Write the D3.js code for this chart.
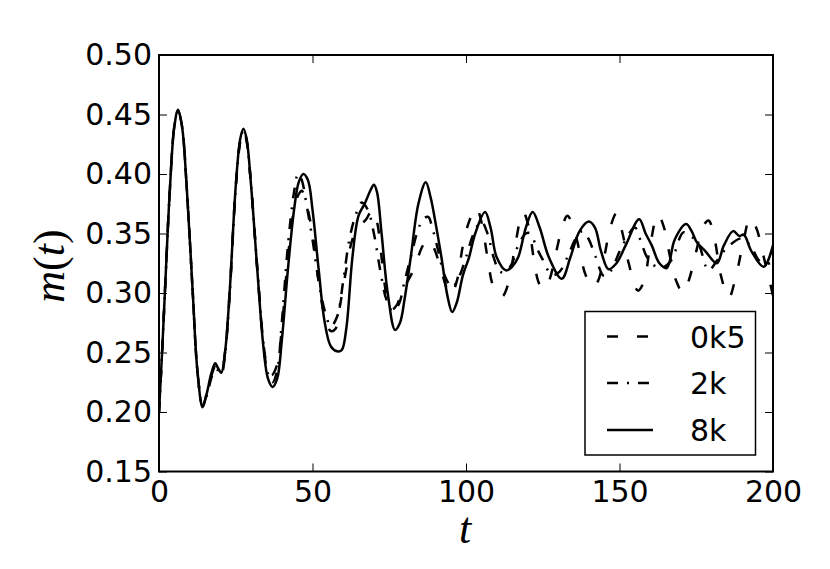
<!DOCTYPE html>
<html><head><meta charset="utf-8">
<script src="https://cdn.jsdelivr.net/npm/d3@7"></script>
<style>body{margin:0;background:#fff}svg{display:block}</style>
</head><body>
<script>
const xTicks=[0,50,100,150,200];
const yTicks=[0.15,0.20,0.25,0.30,0.35,0.40,0.45,0.50];
const seriesNames=["0k5","2k","8k"];

const t8k=[0,1,2,3.5,5,6.2,7.5,9,11,12.5,14.2,15.5,17,18.3,19.2,20.3,21.5,23,25,26.5,27.5,28.5,30,32,34,35.5,37,38.5,40,42,44,45.5,47,48.5,50,52,54,56,58,59.5,61,63,65,67,69,70,71,72.5,74.5,76.9,78.5,80,82,84.5,86.9,88.5,90,92,94,95.5,97,99,101,103,106.2,108,110,113,115,117,119.5,121.7,124,127,131.2,134,137,140,142,144,146.4,149,152,156.4,158.5,160.5,163,165.4,168,171.7,173.5,175.1,178,181.7,184,187,189,190.5,193,197,200];
const m8k=[0.200,0.250,0.305,0.385,0.440,0.454,0.440,0.390,0.300,0.235,0.204,0.215,0.232,0.241,0.237,0.233,0.250,0.300,0.390,0.430,0.438,0.430,0.390,0.320,0.255,0.228,0.221,0.228,0.260,0.320,0.370,0.393,0.400,0.395,0.370,0.320,0.275,0.255,0.251,0.252,0.270,0.330,0.365,0.375,0.387,0.391,0.385,0.350,0.300,0.269,0.275,0.295,0.330,0.375,0.393,0.380,0.360,0.330,0.297,0.284,0.292,0.315,0.330,0.350,0.368,0.355,0.330,0.319,0.322,0.330,0.355,0.368,0.355,0.330,0.312,0.330,0.352,0.360,0.355,0.335,0.320,0.325,0.340,0.362,0.350,0.340,0.325,0.321,0.345,0.358,0.352,0.343,0.335,0.325,0.340,0.352,0.348,0.349,0.335,0.322,0.340];

const t0k5=[0,1,2,3.5,5,6.2,7.5,9,11,12.5,14.2,15.5,17,18.3,19.2,20.3,21.5,23,25,26.5,27.5,28.5,30,32,34,35.5,36.7,38.5,40,42,44,45.5,46.5,48,50,52,54,56,57.5,59,61,63,65,67.5,69.5,71,72.5,74,75.8,77.5,79,83,86,88,90,92,95,97,99,101,103.3,105,107,109,111.7,114,116,118.6,120.5,122,123.5,125,127,129,131,133,135,137,139,141.5,143,145,147,149,151,153,156,158,160,162.5,164.5,166.5,168.5,170.7,172.5,175,177,179,181,183,185.6,188,190.5,192.5,194.5,197,200];
const m0k5=[0.200,0.250,0.305,0.385,0.440,0.453,0.440,0.390,0.300,0.235,0.205,0.215,0.230,0.238,0.236,0.233,0.250,0.300,0.390,0.428,0.436,0.428,0.390,0.320,0.258,0.235,0.231,0.240,0.270,0.330,0.370,0.383,0.386,0.375,0.350,0.310,0.280,0.268,0.270,0.290,0.320,0.345,0.355,0.362,0.370,0.360,0.330,0.300,0.286,0.290,0.300,0.320,0.340,0.345,0.335,0.318,0.298,0.310,0.340,0.360,0.372,0.360,0.330,0.305,0.297,0.310,0.340,0.368,0.355,0.330,0.310,0.303,0.310,0.330,0.352,0.365,0.355,0.335,0.315,0.305,0.310,0.330,0.355,0.367,0.350,0.325,0.302,0.310,0.340,0.366,0.355,0.330,0.310,0.300,0.310,0.335,0.355,0.361,0.345,0.315,0.296,0.315,0.345,0.363,0.355,0.330,0.298];

const t2k=[0,1,2,3.5,5,6.2,7.5,9,11,12.5,14.2,15.5,17,18.3,19.2,20.3,21.5,23,25,26.5,27.5,28.5,30,32,34,35.5,37,38.5,40,42,44,45.3,46.5,48,50,52,54,56,58,60,62,64,66,68,70,72,74,76,78,80,82,84,86,87.7,89,91,93,95.5,98,100,102.5,105,107,109,111,113,115,117,119.5,121,123,125,128,130.5,133,136,138,140,142,145,147,150.8,155,157,159,162,164.5,167,170.8,173,175.6,179,181.7,185,190,193,196,200];
const m2k=[0.200,0.250,0.305,0.385,0.440,0.453,0.440,0.390,0.300,0.235,0.205,0.213,0.228,0.236,0.235,0.232,0.248,0.298,0.388,0.428,0.437,0.429,0.390,0.322,0.258,0.232,0.225,0.235,0.275,0.340,0.385,0.400,0.395,0.375,0.345,0.310,0.285,0.272,0.280,0.310,0.345,0.365,0.376,0.370,0.350,0.320,0.295,0.285,0.290,0.310,0.330,0.350,0.362,0.364,0.355,0.335,0.315,0.305,0.315,0.330,0.350,0.360,0.350,0.330,0.318,0.318,0.325,0.340,0.350,0.350,0.338,0.328,0.315,0.318,0.330,0.347,0.352,0.345,0.332,0.314,0.318,0.339,0.355,0.343,0.330,0.322,0.322,0.328,0.351,0.348,0.342,0.319,0.327,0.338,0.346,0.338,0.326,0.325];

const W=830,H=569;
const x=d3.scaleLinear().domain([0,200]).range([159,773]);
const y=d3.scaleLinear().domain([0.15,0.50]).range([471.5,55]);
const svg=d3.select("body").append("svg").attr("width",W).attr("height",H);
svg.append("defs").append("clipPath").attr("id","clip").append("rect")
  .attr("x",159).attr("y",55).attr("width",614).attr("height",416.5);

const styles={"0k5":"11,19","2k":"11,9,2,9","8k":null};
const data={"0k5":[t0k5,m0k5],"2k":[t2k,m2k],"8k":[t8k,m8k]};
const line=d3.line().x(d=>x(d[0])).y(d=>y(d[1])).curve(d3.curveCatmullRom.alpha(0.5));
const g=svg.append("g").attr("clip-path","url(#clip)");
seriesNames.forEach(n=>{
  const [ts,ms]=data[n];
  const pts=ts.map((t,i)=>[t,ms[i]]);
  g.append("path").datum(pts).attr("d",line).attr("fill","none").attr("stroke","#000")
   .attr("stroke-width",2.5).attr("stroke-dasharray",styles[n]);
});

const font="'DejaVu Sans', sans-serif";
function styleAxis(sel){
  sel.select(".domain").remove();
  sel.selectAll(".tick line").attr("stroke","#000").attr("stroke-width",1);
  sel.selectAll(".tick text").attr("font-family",font).attr("font-size",30).attr("fill","#000");
}
svg.append("g").attr("transform","translate(0,471.5)")
  .call(d3.axisBottom(x).tickValues(xTicks).tickSize(-8).tickPadding(9).tickFormat(d3.format("d")))
  .call(styleAxis);
svg.append("g").attr("transform","translate(0,55)")
  .call(d3.axisTop(x).tickValues(xTicks).tickSize(-8).tickFormat(""))
  .call(styleAxis);
svg.append("g").attr("transform","translate(159,0)")
  .call(d3.axisLeft(y).tickValues(yTicks).tickSize(-8).tickPadding(7).tickFormat(d3.format(".2f")))
  .call(styleAxis);
svg.append("g").attr("transform","translate(773,0)")
  .call(d3.axisRight(y).tickValues(yTicks).tickSize(-8).tickFormat(""))
  .call(styleAxis);

svg.append("rect").attr("x",159).attr("y",55).attr("width",614).attr("height",416.5)
  .attr("fill","none").attr("stroke","#000").attr("stroke-width",2);

// axis labels
const serif="'Liberation Serif','DejaVu Serif',serif";
svg.append("text").attr("x",465).attr("y",543).attr("text-anchor","middle")
  .attr("font-family",serif).attr("font-size",44).attr("font-style","italic").text("t");
const yl=svg.append("text").attr("transform","translate(64,266) rotate(-90)").attr("text-anchor","middle")
  .attr("font-family",serif).attr("font-size",44);
yl.append("tspan").attr("font-style","italic").text("m");
yl.append("tspan").text("(");
yl.append("tspan").attr("font-style","italic").text("t");
yl.append("tspan").text(")");

// legend
const lg=svg.append("g");
lg.append("rect").attr("x",585).attr("y",311.5).attr("width",170.5).attr("height",143.5)
  .attr("fill","#fff").attr("stroke","#000").attr("stroke-width",1.5);
const rowsY=[336.5,383,430];
seriesNames.forEach((n,i)=>{
  lg.append("line").attr("x1",607).attr("x2",653).attr("y1",rowsY[i]).attr("y2",rowsY[i])
    .attr("stroke","#000").attr("stroke-width",2.5).attr("stroke-dasharray",styles[n]);
  lg.append("text").attr("x",690).attr("y",rowsY[i]+11).attr("font-family",font).attr("font-size",30).text(n);
});
</script>
</body></html>
